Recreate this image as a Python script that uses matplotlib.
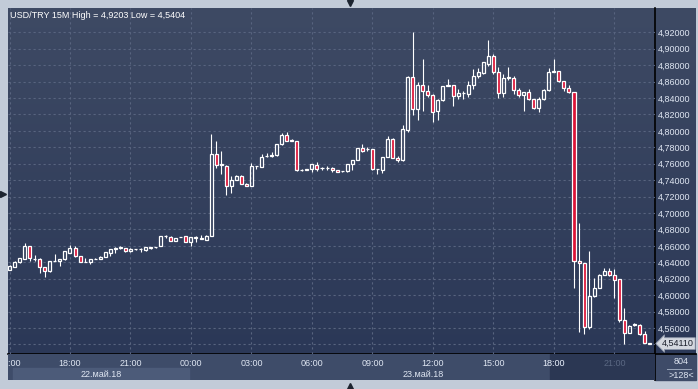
import numpy as np
import matplotlib
matplotlib.use("Agg")
import matplotlib.pyplot as plt
from matplotlib.patches import Rectangle
from matplotlib.transforms import blended_transform_factory

plt.rcParams['font.family'] = ['Liberation Sans', 'DejaVu Sans']

# USD/TRY 15M candles, 22.05.18 15:00 .. 23.05.18 22:45
opens = [4.6311, 4.6347, 4.6399, 4.6444, 4.6597, 4.6440, 4.6444, 4.6339, 4.6290, 4.6416,
         4.6420, 4.6436, 4.6516, 4.6569, 4.6472, 4.6403, 4.6403, 4.6440, 4.6440, 4.6468,
         4.6516, 4.6557, 4.6575, 4.6569, 4.6532, 4.6557, 4.6561, 4.6545, 4.6577, 4.6583,
         4.6597, 4.6718, 4.6714, 4.6665, 4.6706, 4.6718, 4.6653, 4.6698, 4.6688, 4.6677,
         4.6726, 4.7718, 4.7585, 4.7572, 4.7326, 4.7402, 4.7455, 4.7358, 4.7330, 4.7568,
         4.7560, 4.7690, 4.7692, 4.7705, 4.7838, 4.7947, 4.7882, 4.7874, 4.7523, 4.7527,
         4.7531, 4.7584, 4.7544, 4.7548, 4.7548, 4.7523, 4.7509, 4.7507, 4.7596, 4.7644,
         4.7789, 4.7777, 4.7777, 4.7535, 4.7519, 4.7681, 4.7898, 4.7669, 4.7640, 4.8011,
         4.8660, 4.8261, 4.8563, 4.8490, 4.8442, 4.8248, 4.8370, 4.8552, 4.8556, 4.8430,
         4.8459, 4.8447, 4.8556, 4.8665, 4.8706, 4.8819, 4.8908, 4.8722, 4.8459, 4.8649,
         4.8641, 4.8495, 4.8434, 4.8471, 4.8386, 4.8273, 4.8386, 4.8495, 4.8722, 4.8726,
         4.8605, 4.8520, 4.8471, 4.6422, 4.6393, 4.5616, 4.5988, 4.6090, 4.6244, 4.6300,
         4.6248, 4.6191, 4.5701, 4.5543, 4.5640, 4.5640, 4.5531, 4.5413]
highs = [4.6365, 4.6412, 4.6452, 4.6633, 4.6600, 4.6490, 4.6448, 4.6345, 4.6420, 4.6500,
         4.6440, 4.6540, 4.6609, 4.6597, 4.6476, 4.6448, 4.6444, 4.6448, 4.6472, 4.6530,
         4.6560, 4.6585, 4.6593, 4.6577, 4.6570, 4.6560, 4.6580, 4.6589, 4.6581, 4.6590,
         4.6722, 4.6730, 4.6718, 4.6702, 4.6712, 4.6722, 4.6710, 4.6722, 4.6738, 4.6730,
         4.7964, 4.7871, 4.7750, 4.7580, 4.7447, 4.7460, 4.7460, 4.7366, 4.7612, 4.7572,
         4.7721, 4.7729, 4.7737, 4.7846, 4.7979, 4.7983, 4.7898, 4.7878, 4.7535, 4.7535,
         4.7600, 4.7624, 4.7564, 4.7568, 4.7556, 4.7527, 4.7515, 4.7600, 4.7648, 4.7793,
         4.7842, 4.7801, 4.7785, 4.7540, 4.7685, 4.7938, 4.7914, 4.7697, 4.8072, 4.8664,
         4.9203, 4.8595, 4.8878, 4.8563, 4.8446, 4.8390, 4.8552, 4.8633, 4.8560, 4.8507,
         4.8487, 4.8609, 4.8750, 4.8763, 4.8839, 4.9107, 4.8937, 4.8775, 4.8690, 4.8775,
         4.8669, 4.8524, 4.8475, 4.8507, 4.8390, 4.8418, 4.8511, 4.8771, 4.8876, 4.8730,
         4.8609, 4.8556, 4.8475, 4.6883, 4.6397, 4.6543, 4.6215, 4.6252, 4.6333, 4.6337,
         4.6313, 4.6195, 4.5839, 4.5632, 4.5656, 4.5644, 4.5564, 4.5415]
lows = [4.6305, 4.6340, 4.6395, 4.6440, 4.6420, 4.6420, 4.6266, 4.6226, 4.6285, 4.6412,
        4.6359, 4.6432, 4.6512, 4.6460, 4.6400, 4.6400, 4.6379, 4.6436, 4.6436, 4.6464,
        4.6472, 4.6516, 4.6557, 4.6528, 4.6528, 4.6553, 4.6520, 4.6540, 4.6560, 4.6575,
        4.6593, 4.6702, 4.6660, 4.6660, 4.6704, 4.6650, 4.6601, 4.6653, 4.6685, 4.6673,
        4.6722, 4.7548, 4.7480, 4.7225, 4.7245, 4.7398, 4.7350, 4.7326, 4.7326, 4.7540,
        4.7556, 4.7686, 4.7688, 4.7700, 4.7834, 4.7878, 4.7874, 4.7511, 4.7515, 4.7525,
        4.7495, 4.7507, 4.7523, 4.7527, 4.7503, 4.7495, 4.7503, 4.7503, 4.7523, 4.7640,
        4.7749, 4.7761, 4.7523, 4.7471, 4.7487, 4.7677, 4.7665, 4.7620, 4.7636, 4.7990,
        4.8192, 4.8132, 4.8245, 4.8418, 4.8112, 4.8127, 4.8366, 4.8548, 4.8305, 4.8386,
        4.8386, 4.8418, 4.8516, 4.8649, 4.8698, 4.8795, 4.8690, 4.8398, 4.8418, 4.8621,
        4.8455, 4.8418, 4.8248, 4.8378, 4.8269, 4.8224, 4.8382, 4.8491, 4.8718, 4.8601,
        4.8483, 4.8467, 4.6086, 4.5551, 4.5523, 4.5591, 4.5976, 4.6086, 4.6240, 4.6232,
        4.5969, 4.5677, 4.5404, 4.5539, 4.5620, 4.5511, 4.5417, 4.5405]
closes = [4.6359, 4.6408, 4.6448, 4.6597, 4.6452, 4.6440, 4.6339, 4.6295, 4.6416, 4.6420,
          4.6436, 4.6536, 4.6569, 4.6472, 4.6403, 4.6405, 4.6440, 4.6444, 4.6468, 4.6524,
          4.6557, 4.6577, 4.6575, 4.6532, 4.6565, 4.6557, 4.6565, 4.6585, 4.6579, 4.6587,
          4.6718, 4.6718, 4.6665, 4.6698, 4.6710, 4.6653, 4.6706, 4.6700, 4.6688, 4.6726,
          4.7722, 4.7585, 4.7585, 4.7330, 4.7407, 4.7455, 4.7354, 4.7330, 4.7572, 4.7568,
          4.7681, 4.7692, 4.7709, 4.7842, 4.7951, 4.7882, 4.7878, 4.7519, 4.7523, 4.7531,
          4.7596, 4.7536, 4.7544, 4.7548, 4.7519, 4.7499, 4.7511, 4.7596, 4.7644, 4.7789,
          4.7761, 4.7777, 4.7531, 4.7535, 4.7681, 4.7898, 4.7669, 4.7640, 4.8019, 4.8660,
          4.8261, 4.8563, 4.8490, 4.8442, 4.8233, 4.8370, 4.8548, 4.8552, 4.8430, 4.8459,
          4.8459, 4.8556, 4.8665, 4.8718, 4.8835, 4.8908, 4.8722, 4.8459, 4.8649, 4.8649,
          4.8495, 4.8434, 4.8471, 4.8394, 4.8273, 4.8386, 4.8499, 4.8718, 4.8722, 4.8605,
          4.8520, 4.8471, 4.6418, 4.6393, 4.5616, 4.5992, 4.6090, 4.6248, 4.6300, 4.6244,
          4.6187, 4.5697, 4.5543, 4.5628, 4.5640, 4.5531, 4.5421, 4.5411]

time_pos = [0, 12, 24, 36, 48, 60, 72, 84, 96, 108, 120]
time_labels = ['15:00', '18:00', '21:00', '00:00', '03:00', '06:00',
               '09:00', '12:00', '15:00', '18:00', '21:00']
day_labels = ['22.май.18', '23.май.18']
day_start = [0.6, 35.6]
day_end = [35.6, 128.6]
price_ticks = [4.54, 4.56, 4.58, 4.60, 4.62, 4.64, 4.66, 4.68, 4.70, 4.72,
               4.74, 4.76, 4.78, 4.80, 4.82, 4.84, 4.86, 4.88, 4.90, 4.92]
title = 'USD/TRY 15M High = 4,9203 Low = 4,5404'
last_price = '4,54110'
future_from = 107.25

W, H = 698, 389
fig = plt.figure(figsize=(W / 100, H / 100), dpi=100, facecolor='#c2cbd8')

# background / frame in pixel coords
bg = fig.add_axes([0, 0, 1, 1])
bg.set_xlim(0, W)
bg.set_ylim(H, 0)
bg.axis('off')
grad = np.linspace(0, 1, 256).reshape(-1, 1)
top = np.array([0x3e, 0x4a, 0x64]) / 255
bot = np.array([0x2b, 0x38, 0x57]) / 255
img = top + (bot - top) * grad[:, :, None]
bg.imshow(img, extent=(8, 696, 354, 8), aspect='auto', zorder=0)
bg.add_patch(Rectangle((655, 354), 41, 26, color='#3e4b68', zorder=1))
bg.plot([655, 655], [8, 380], color='black', lw=1.2, zorder=3)
bg.plot([8, 696], [354, 354], color='black', lw=1.2, zorder=3)
bg.plot([667, 691], [368.5, 368.5], color='#9aa6ba', lw=0.7, zorder=3)
bg.text(681, 362, '804', ha='center', va='center', fontsize=6.5, color='#dfe6f2')
bg.text(681, 375, '>128<', ha='center', va='center', fontsize=6.5, color='#dfe6f2')
bg.plot([350], [3], marker='v', ms=4, color='#1c2430', zorder=3)
bg.plot([350], [386], marker='^', ms=4, color='#1c2430', zorder=3)
bg.plot([3], [194], marker='>', ms=4, color='#1c2430', zorder=3)

# main candle axes
x0, x1 = 8, 655
ax = fig.add_axes([x0 / W, 1 - 354 / H, (x1 - x0) / W, (354 - 8) / H])
ax.set_facecolor('none')
xl = (-1.5 / 5.04, 127 + 5.4 / 5.04)
ax.set_xlim(*xl)
ax.set_ylim(4.5284, 4.9496)
for s in ax.spines.values():
    s.set_visible(False)

grid_col = '#58647f'
ax.set_xticks(time_pos)
ax.set_yticks(price_ticks)
# lowest label is hidden behind the last-price marker
ax.set_yticklabels([''] + [f'{p:.5f}'.replace('.', ',') for p in price_ticks[1:]])
ax.yaxis.tick_right()
ax.tick_params(axis='y', length=0, pad=2.2, labelsize=6.5, labelcolor='#dfe6f2')
ax.tick_params(axis='x', length=0, labelbottom=False)
ax.grid(True, color=grid_col, lw=0.8, ls=(0, (2, 2.5)))
ax.set_axisbelow(True)

o = np.array(opens)
h = np.array(highs)
l = np.array(lows)
c = np.array(closes)
idx = np.arange(len(o))
body_top = np.maximum(o, c)
body_bot = np.minimum(o, c)
ax.vlines(idx, body_top, h, color='white', lw=0.8, zorder=3)
ax.vlines(idx, l, body_bot, color='white', lw=0.8, zorder=3)
height = np.maximum(body_top - body_bot, 0.0006)
faces = ['#dc1437' if cc < oo else 'none' for oo, cc in zip(o, c)]
ax.bar(idx, height, bottom=body_bot, width=0.6, color=faces,
       edgecolor='white', linewidth=0.9, zorder=4)

ax.text(2 / (x1 - x0), 1 - 7 / 346, title, transform=ax.transAxes,
        ha='left', va='center', fontsize=6.5, color='white')

tr = blended_transform_factory(ax.transAxes, ax.transData)
ax.text(1 + 7 / (x1 - x0), closes[-1], last_price, transform=tr, ha='left',
        va='center', fontsize=6.5, color='#1a1f2b', zorder=10, clip_on=False,
        bbox=dict(boxstyle='larrow,pad=0.15', fc='#d3d7df', ec='#8d97aa', lw=0.6))

# bottom time axis panel
bax = fig.add_axes([x0 / W, 1 - 380 / H, (x1 - x0) / W, 26 / H])
bax.set_facecolor('#3e4c69')
bax.set_xlim(*xl)
bax.set_ylim(1, 0)
bax.axis('off')
bax.add_patch(Rectangle((xl[0], 0), xl[1] - xl[0], 1, color='#3e4c69', zorder=0))
bax.add_patch(Rectangle((day_start[0], 0.54), day_end[0] - day_start[0], 0.46,
                        color='#4c5b79', zorder=1))
bax.add_patch(Rectangle((future_from, 0), xl[1] - future_from, 1,
                        color='#2b3753', zorder=1))
for p, t in zip(time_pos, time_labels):
    dim = p >= future_from
    bax.text(p, 0.36, t, ha='center', va='center', fontsize=6.5,
             color='#5a6782' if dim else '#dfe6f2', clip_on=True, zorder=3)
    if dim and p - 1.6 < future_from:
        tt = bax.text(p, 0.36, t, ha='center', va='center', fontsize=6.5,
                      color='#dfe6f2', zorder=4)
        tt.set_clip_path(Rectangle((xl[0], 0), future_from - xl[0], 1,
                                   transform=bax.transData))
for s, e, t in zip(day_start, day_end, day_labels):
    bax.text((s + e) / 2, 0.78, t, ha='center', va='center', fontsize=6.5,
             color='#dfe6f2', clip_on=True, zorder=3)

fig.savefig('out.png', dpi=100, facecolor=fig.get_facecolor())
